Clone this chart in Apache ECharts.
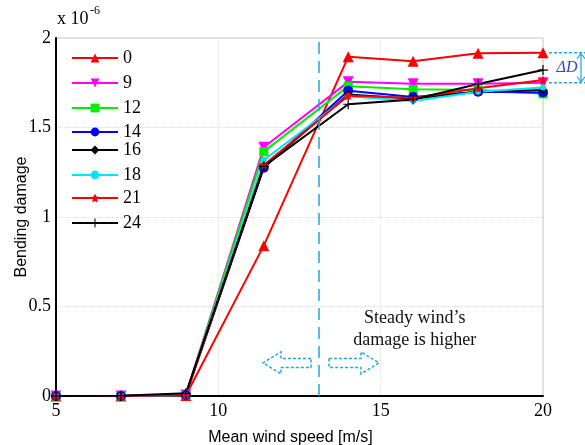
<!DOCTYPE html>
<html>
<head>
<meta charset="utf-8">
<script src="https://cdn.jsdelivr.net/npm/echarts@6/dist/echarts.min.js"></script>
<style>
  html, body { margin: 0; padding: 0; background: #fff; }
  #chart { width: 585px; height: 445px; }
</style>
</head>
<body>
<div id="chart"></div>
<script>
// wind speeds [m/s]
var windSpeeds = [5, 7, 9, 11.4, 14, 16, 18, 20];
// bending damage (x 1e-6) per wind direction / case
var seriesNames = ['0', '9', '12', '14', '16', '18', '21', '24'];
var dmg0  = [0, 0, 0.003, 0.84, 1.895, 1.87, 1.915, 1.918];
var dmg9  = [0, 0, 0.005, 1.39, 1.755, 1.745, 1.745, 1.75];
var dmg12 = [0, 0, 0.005, 1.365, 1.73, 1.713, 1.71, 1.688];
var dmg14 = [0, 0, 0.005, 1.275, 1.705, 1.67, 1.70, 1.696];
var dmg16 = [0, 0, 0.008, 1.28, 1.685, 1.66, 1.70, 1.71];
var dmg18 = [0, 0, 0.005, 1.318, 1.675, 1.648, 1.70, 1.724];
var dmg21 = [0, 0, 0.005, 1.29, 1.677, 1.665, 1.719, 1.765];
var dmg24 = [0, 0.002, 0.015, 1.283, 1.63, 1.657, 1.743, 1.821];
var allData = [dmg0, dmg9, dmg12, dmg14, dmg16, dmg18, dmg21, dmg24];

var dividerSpeed = 13.1;

var colors = ['#ff0000', '#ff00ff', '#00ee00', '#0000ff', '#000000', '#00e5ff', '#ff0000', '#000000'];
var STAR = 'path://M0,-10 L2.9,-4 9.5,-3.1 4.7,1.5 5.9,8.1 0,5 -5.9,8.1 -4.7,1.5 -9.5,-3.1 -2.9,-4 Z';
var PLUS = 'path://M-1.2,-10 H1.2 V-1.2 H10 V1.2 H1.2 V10 H-1.2 V1.2 H-10 V-1.2 H-1.2 Z';
var symbols = ['triangle', 'triangle', 'rect', 'circle', 'diamond', 'circle', STAR, PLUS];
var symbolSizes = [11, 11, 9, 10, 9, 6, 9, 10];
var symbolRotates = [0, 180, 0, 0, 0, 0, 0, 0];
var legendTops = [44, 69, 94, 118, 136, 161, 184, 209];

var serif = 'Liberation Serif, Times New Roman, serif';
var sans = 'Liberation Sans, Arial, sans-serif';

var myChart = echarts.init(document.getElementById('chart'));

var series = seriesNames.map(function (name, i) {
    var s = {
        name: name,
        type: 'line',
        data: windSpeeds.map(function (w, j) { return [w, allData[i][j]]; }),
        symbol: symbols[i],
        symbolSize: symbolSizes[i],
        symbolRotate: symbolRotates[i],
        showAllSymbol: true,
        lineStyle: { color: colors[i], width: 2 },
        itemStyle: { color: colors[i] },
        emphasis: { disabled: true },
        animation: false
    };
    if (i === 0) {
        s.markLine = {
            silent: true,
            symbol: 'none',
            label: { show: false },
            lineStyle: { color: '#1ea7e1', type: [12, 7], width: 1.5 },
            data: [{ xAxis: dividerSpeed }]
        };
    }
    return s;
});

var legends = seriesNames.map(function (name, i) {
    return {
        data: [name],
        left: 66,
        top: legendTops[i],
        itemWidth: 46,
        itemHeight: 11,
        itemGap: 8,
        textStyle: { fontFamily: serif, fontSize: 18, color: '#000' },
        selectedMode: false
    };
});

var option = {
    backgroundColor: '#fff',
    animation: false,
    grid: {
        left: 56, right: 42, top: 38, bottom: 49,
        outerBoundsMode: 'none',
        show: true, borderColor: '#c8c8c8', borderWidth: 1
    },
    legend: legends,
    xAxis: {
        type: 'value',
        min: 5, max: 20, interval: 5,
        name: 'Mean wind speed [m/s]',
        nameLocation: 'middle',
        nameGap: 34,
        nameMoveOverlap: false,
        nameTextStyle: { fontFamily: sans, fontSize: 16, color: '#000', padding: [0, 18, 0, 0] },
        axisLine: { lineStyle: { color: '#000', width: 2 } },
        axisTick: { show: false },
        axisLabel: { fontFamily: serif, fontSize: 18, color: '#000', margin: 6 },
        splitLine: { lineStyle: { color: '#dcdcdc', type: 'dotted' } }
    },
    yAxis: {
        type: 'value',
        min: 0, max: 2, interval: 0.5,
        name: 'Bending damage',
        nameLocation: 'middle',
        nameGap: 26,
        nameMoveOverlap: false,
        nameTextStyle: { fontFamily: sans, fontSize: 16, color: '#000' },
        axisLine: { show: true, lineStyle: { color: '#000', width: 2 } },
        axisTick: { show: false },
        axisLabel: { fontFamily: serif, fontSize: 18, color: '#000', margin: 5 },
        splitLine: { lineStyle: { color: '#dcdcdc', type: 'dotted' } }
    },
    series: series
};

myChart.setOption(option);

// annotations placed through the axes
function px(x, y) { return myChart.convertToPixel({ gridIndex: 0 }, [x, y]); }
var div = px(dividerSpeed, 0.185);
var cx = div[0], cy = div[1];
var arrowStyle = { fill: 'none', stroke: '#1ea7e1', lineWidth: 1.5, lineDash: [3, 2] };
var leftArrow = [[cx - 8, cy - 4.5], [cx - 38, cy - 4.5], [cx - 38, cy - 11], [cx - 56, cy], [cx - 38, cy + 11], [cx - 38, cy + 4.5], [cx - 8, cy + 4.5]];
var rightArrow = [[cx + 10, cy - 4.5], [cx + 42, cy - 4.5], [cx + 42, cy - 11], [cx + 60, cy], [cx + 42, cy + 11], [cx + 42, cy + 4.5], [cx + 10, cy + 4.5]];

var endTop = px(20, dmg0[7]);
var endLow = px(20, dmg9[7]);
var textPos = px(16.05, 0.375);

myChart.setOption({
    graphic: [
        { type: 'polygon', shape: { points: leftArrow }, style: arrowStyle, silent: true },
        { type: 'polygon', shape: { points: rightArrow }, style: arrowStyle, silent: true },
        {
            type: 'text', x: textPos[0], y: textPos[1], silent: true,
            style: { text: 'Steady wind\u2019s\ndamage is higher', font: '18px ' + serif, fill: '#111', align: 'center', verticalAlign: 'middle', lineHeight: 22 }
        },
        { type: 'line', shape: { x1: endTop[0] + 6, y1: endTop[1], x2: 585, y2: endTop[1] }, style: { stroke: '#1ea7e1', lineWidth: 1.5, lineDash: [3, 2] }, silent: true },
        { type: 'line', shape: { x1: endLow[0] + 6, y1: endLow[1], x2: 585, y2: endLow[1] }, style: { stroke: '#1ea7e1', lineWidth: 1.5, lineDash: [3, 2] }, silent: true },
        { type: 'line', shape: { x1: 581, y1: endTop[1] + 2, x2: 581, y2: endLow[1] - 2 }, style: { stroke: '#1ea7e1', lineWidth: 1.2 }, silent: true },
        { type: 'polyline', shape: { points: [[577, endTop[1] + 6], [581, endTop[1] + 1], [585, endTop[1] + 6]] }, style: { stroke: '#1ea7e1', lineWidth: 1.2, fill: 'none' }, silent: true },
        { type: 'polyline', shape: { points: [[577, endLow[1] - 6], [581, endLow[1] - 1], [585, endLow[1] - 6]] }, style: { stroke: '#1ea7e1', lineWidth: 1.2, fill: 'none' }, silent: true },
        {
            type: 'text', x: 567, y: (endTop[1] + endLow[1]) / 2, silent: true,
            style: { text: '\u0394D', font: 'italic 16px ' + serif, fill: '#3344dd', align: 'center', verticalAlign: 'middle' }
        },
        {
            type: 'text', x: 57, y: 28, silent: true,
            style: { text: 'x 10', font: '18px ' + serif, fill: '#000', verticalAlign: 'bottom' }
        },
        {
            type: 'text', x: 90, y: 17, silent: true,
            style: { text: '-6', font: '12px ' + serif, fill: '#000', verticalAlign: 'bottom' }
        }
    ]
});
</script>
</body>
</html>
